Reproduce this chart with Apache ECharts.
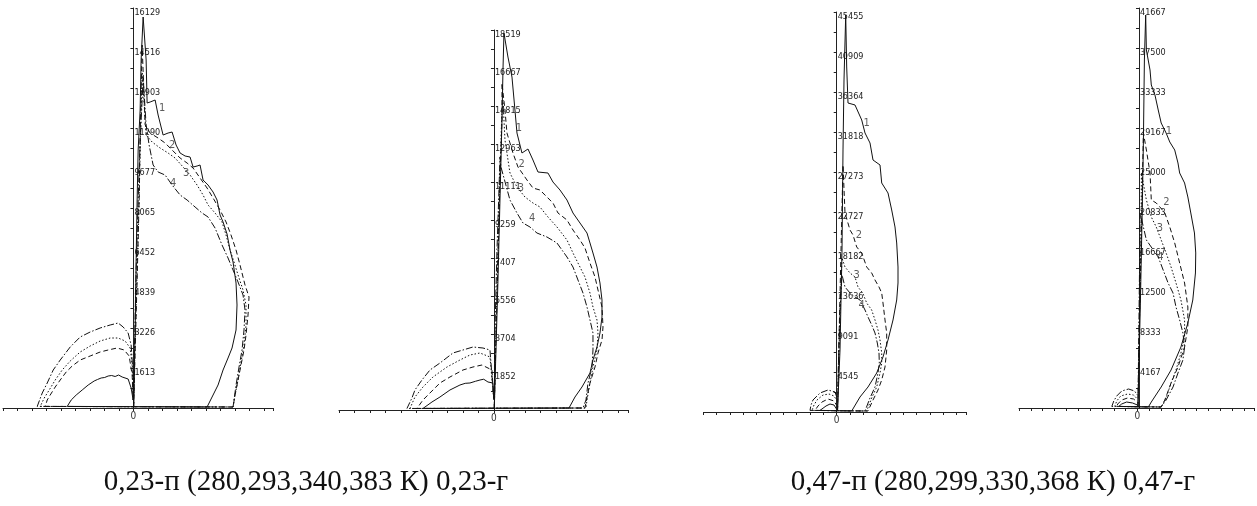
<!DOCTYPE html>
<html><head><meta charset="utf-8">
<script src="https://cdn.jsdelivr.net/npm/echarts@6/dist/echarts.min.js"></script>
<style>html,body{margin:0;padding:0;background:#fff}#c{width:1257px;height:506px}</style>
</head><body><div id="c"></div>
<script>
// ---- tick labels (y axes) ----
const yLabels1 = ['', '1613', '3226', '4839', '6452', '8065', '9677', '11290', '12903', '14516', '16129'];
const yLabels2 = ['', '1852', '3704', '5556', '7407', '9259', '11111', '12963', '14815', '16667', '18519'];
const yLabels3 = ['', '4545', '9091', '13636', '18182', '22727', '27273', '31818', '36364', '40909', '45455'];
const yLabels4 = ['', '4167', '8333', '12500', '16667', '20833', '25000', '29167', '33333', '37500', '41667'];
const curveNames = ['1', '2', '3', '4'];
const captions = ['0,23-п (280,293,340,383 К) 0,23-г', '0,47-п (280,299,330,368 К) 0,47-г'];

// ---- panel 1 (0,23-п) ----
const p1c1Main = [[8,40],[28,1129],[69,3145],[109,5968],[149,8387],[190,10403],[270,12015],[310,14032],[391,15766],[512,14032],[552,12298],[673,12338],[875,12419],[996,11814],[1197,11007],[1399,11088],[1560,11128],[1722,10604],[1883,10282],[2085,10161],[2286,10120],[2407,9717],[2568,9757],[2689,9798],[2810,9193],[3012,8991],[3214,8709],[3375,8387],[3496,7782],[3617,7500],[3778,7016],[3899,6371],[4020,5887],[4141,5040],[4181,4153],[4141,3145],[3980,2419],[3818,2016],[3617,1532],[3415,927],[3214,524],[2972,40]];
const p1c1Left = [[-12,323],[-93,806],[-214,1169],[-456,1250],[-600,1330],[-738,1270],[-880,1310],[-1020,1290],[-1160,1230],[-1302,1210],[-1450,1150],[-1585,1089],[-1826,927],[-2068,726],[-2310,524],[-2512,323],[-2673,121]];
const p1c2Main = [[8,40],[69,2339],[149,5161],[230,8387],[270,10806],[310,12822],[351,14636],[472,11411],[673,11088],[996,10886],[1278,10685],[1560,10403],[1883,10080],[2165,9878],[2407,9677],[2689,9274],[2972,8870],[3214,8467],[3496,7983],[3738,7500],[3939,6975],[4141,6371],[4302,5766],[4504,4959],[4665,4476],[4625,3750],[4544,2943],[4463,2339],[4342,1734],[4222,1129],[4101,524],[4020,40]];
const p1c2Left = [[-12,323],[-52,1331],[-173,2097],[-375,2339],[-657,2419],[-1020,2339],[-1343,2258],[-1746,2097],[-2149,1935],[-2472,1693],[-2714,1452],[-2955,1129],[-3157,847],[-3359,524],[-3480,323],[-3560,121]];
const p1c3Main = [[8,40],[69,2742],[149,5564],[230,8387],[270,10403],[310,12015],[351,13548],[512,11007],[754,10725],[1077,10483],[1399,10282],[1681,10080],[2004,9717],[2286,9395],[2568,8991],[2810,8588],[3012,8185],[3294,7862],[3576,7500],[3738,6975],[3899,6371],[4060,5887],[4222,5363],[4423,4758],[4544,4153],[4544,3347],[4463,2540],[4342,1855],[4222,1129],[4101,524],[4020,40]];
const p1c3Left = [[-12,323],[-52,1734],[-133,2419],[-335,2701],[-617,2822],[-939,2822],[-1343,2701],[-1746,2500],[-2149,2258],[-2552,1895],[-2875,1532],[-3157,1129],[-3399,726],[-3601,403],[-3762,121]];
const p1c4Main = [[8,40],[48,2742],[109,5564],[190,8387],[270,10806],[351,12419],[391,13306],[512,11411],[633,10604],[794,9798],[996,9516],[1278,9395],[1560,8991],[1883,8588],[2165,8387],[2488,8104],[2770,7862],[3012,7701],[3294,7258],[3576,6572],[3818,6048],[4020,5564],[4222,5080],[4423,4556],[4504,3951],[4463,3145],[4383,2339],[4262,1653],[4141,927],[4060,323],[4020,40]];
const p1c4Left = [[-12,323],[-12,1331],[-93,2540],[-214,3024],[-415,3266],[-617,3427],[-939,3347],[-1343,3226],[-1746,3064],[-2149,2863],[-2552,2460],[-2955,1935],[-3238,1532],[-3480,1008],[-3681,605],[-3883,121]];
const p1Marks = [[1157,12096],[1560,10604],[2125,9475],[1601,9072]];

// ---- panel 2 (0,23-г) ----
const p2c1Main = [[15,49],[97,2924],[195,6335],[292,10233],[390,14132],[439,16568],[487,18371],[682,17202],[877,16227],[1023,14619],[1121,13498],[1364,12524],[1657,12719],[1900,12183],[2144,11598],[2631,11549],[2875,11110],[3216,10721],[3557,10233],[3850,9600],[4191,9113],[4532,8625],[4678,8138],[4824,7651],[5019,6968],[5165,6189],[5263,5360],[5263,4532],[5165,3752],[5019,3070],[4824,2437],[4678,1803],[4288,1121],[3947,633],[3655,97]];
const p2c1Left = [[-5,487],[-49,1316],[-292,1364],[-500,1500],[-682,1462],[-900,1400],[-1170,1316],[-1400,1300],[-1657,1218],[-2144,975],[-2631,633],[-3021,390],[-3460,146]];
const p2c2Main = [[15,49],[97,3411],[195,7310],[292,11208],[390,14132],[390,15935],[536,14619],[633,13498],[926,12524],[1170,11841],[1608,11208],[1900,10818],[2242,10721],[2583,10379],[2875,10087],[3119,9600],[3557,9259],[3850,8771],[4191,8284],[4434,7894],[4678,7163],[4922,6481],[5068,5848],[5263,5019],[5312,4045],[5263,3411],[5068,2778],[4922,2095],[4678,1316],[4532,633],[4434,97]];
const p2c2Left = [[-5,487],[-97,1949],[-585,2193],[-1023,2095],[-1511,1949],[-2144,1608],[-2631,1316],[-3119,828],[-3460,487],[-3752,146]];
const p2c3Main = [[15,49],[97,3898],[195,7797],[292,11695],[390,14619],[439,15106],[536,13157],[780,11549],[1121,10867],[1511,10379],[1900,10087],[2242,9892],[2631,9405],[3070,8918],[3557,8284],[3850,7651],[4093,7163],[4434,6481],[4678,5701],[4824,5019],[5019,4386],[5068,3752],[5019,2924],[4824,2095],[4678,1316],[4532,487],[4483,97]];
const p2c3Left = [[-5,487],[-195,2583],[-682,2778],[-1170,2680],[-1657,2437],[-2290,2095],[-2973,1608],[-3460,1121],[-3850,633],[-4093,146]];
const p2c4Main = [[15,49],[49,3898],[146,7797],[244,10721],[292,12329],[341,11841],[780,10233],[1121,9600],[1413,9113],[1754,8918],[2095,8625],[2583,8430],[3070,8138],[3557,7456],[3850,6968],[4093,6335],[4337,5701],[4532,5019],[4678,4386],[4824,3752],[4824,2924],[4776,2095],[4581,1316],[4483,487],[4337,97]];
const p2c4Left = [[-5,487],[-195,2924],[-536,3021],[-1023,3070],[-1511,2924],[-1998,2778],[-2631,2290],[-3119,1949],[-3509,1462],[-3850,975],[-3996,585],[-4240,146]];
const p2Marks = [[1218,13727],[1350,11988],[1316,10803],[1866,9341]];

// ---- panel 3 (0,47-п) ----
const p3c1Main = [[91,114],[375,7046],[602,18410],[716,29774],[830,37728],[1023,45115],[1136,39206],[1284,35115],[2080,34887],[2841,33183],[3216,31706],[3784,30569],[4125,28637],[4921,28069],[5114,26024],[5830,24887],[6250,22955],[6625,21023],[6818,19205],[6966,16478],[6966,14660],[6818,12728],[6398,10455],[5830,8182],[5261,6250],[4546,4432],[3557,2841],[2648,1705],[1705,114]];
const p3c1Left = [[-23,341],[-307,795],[-761,909],[-1216,682],[-1671,341],[-1898,114]];
const p3c2Main = [[91,114],[261,8182],[489,18410],[716,28069],[943,22614],[1511,20682],[1852,20114],[2273,18751],[2841,18069],[3409,16478],[3977,15796],[4352,15000],[4807,14205],[5114,13523],[5261,12387],[5489,10455],[5682,8978],[5682,7046],[5489,5114],[5114,3636],[4693,2500],[4125,1364],[3557,114]];
const p3c2Left = [[-23,795],[-307,1250],[-989,1477],[-1671,1136],[-2125,682],[-2466,114]];
const p3c3Main = [[91,114],[261,7046],[432,12728],[602,17501],[943,16478],[1511,15796],[2080,15341],[2421,14205],[2955,13523],[3409,12387],[3977,11591],[4352,10455],[4693,9318],[4921,8182],[5114,6705],[5114,5568],[4921,4432],[4546,2841],[3977,1591],[3409,114]];
const p3c3Left = [[-23,1364],[-307,1818],[-875,2045],[-1557,1932],[-2239,1364],[-2580,795],[-2807,114]];
const p3c4Main = [[91,114],[205,5909],[375,11591],[602,15569],[943,14205],[1511,13523],[2080,13069],[2648,12728],[3216,11591],[3557,10796],[3977,9887],[4352,8978],[4614,7841],[4807,6705],[4841,5568],[4693,4432],[4352,2841],[3784,1591],[3216,114]];
const p3c4Left = [[0,1705],[-193,2273],[-989,2500],[-1898,2159],[-2693,1364],[-2921,795],[-3034,114]];
const p3Marks = [[3409,32808],[2534,20114],[2273,15569],[2841,12159]];

// ---- panel 4 (0,47-г) ----
const p4c1Main = [[52,104],[313,11250],[521,21667],[625,27918],[729,36251],[865,40939],[938,37293],[1323,35209],[1458,33647],[1844,32605],[2188,31043],[2500,29688],[3021,28647],[3406,27709],[3927,26876],[4271,25522],[4448,24480],[4969,23438],[5313,21980],[5625,20313],[6011,18230],[6146,16146],[6115,14063],[5834,11250],[5313,8854],[4583,6354],[3542,3958],[2500,2188],[1458,625],[1146,104]];
const p4c1Left = [[-10,313],[-521,521],[-1146,625],[-1667,417],[-1979,104]];
const p4c2Main = [[52,104],[208,9167],[417,18542],[625,28647],[938,26876],[1323,24480],[1458,21667],[1979,21355],[2365,20938],[2885,20313],[3406,18855],[3927,17188],[4448,15105],[4969,13021],[5313,10521],[5313,8438],[4969,6354],[4271,4271],[3542,2604],[2885,833],[2500,104]];
const p4c2Left = [[-10,625],[-417,938],[-1042,1042],[-1667,833],[-2083,417],[-2188,104]];
const p4c3Main = [[52,104],[208,9167],[365,17501],[417,24480],[938,21667],[1458,19896],[1979,18855],[2500,17501],[3021,16146],[3542,14688],[4063,13021],[4583,11250],[4969,9167],[4969,7396],[4583,5729],[4063,3958],[3542,2604],[3021,1042],[2500,104]];
const p4c3Left = [[-10,938],[-417,1354],[-1042,1458],[-1771,1250],[-2188,729],[-2396,104]];
const p4c4Main = [[52,104],[156,9167],[281,20313],[938,17501],[1667,16459],[2188,15730],[2708,14375],[3229,13021],[3750,11980],[4063,10521],[4448,9167],[4792,7813],[4969,6354],[4792,5000],[4271,3646],[3750,2188],[3021,833],[2500,104]];
const p4c4Left = [[-10,1354],[-313,1771],[-938,1979],[-1667,1771],[-2188,1250],[-2500,729],[-2708,104]];
const p4Marks = [[3302,28886],[3052,21428],[2365,18719],[2427,15761]];

const panels = [
  {grid:{left:3,top:8,width:270,height:400}, xMin:-5265, xMax:5633, xStep:585, yMax:16129, yStep:1612.9, yLabels:yLabels1,
   curves:[[p1c1Main,p1c1Left],[p1c2Main,p1c2Left],[p1c3Main,p1c3Left],[p1c4Main,p1c4Left]], marks:p1Marks},
  {grid:{left:339,top:30,width:289,height:380}, xMin:-7550, xMax:6530, xStep:755, yMax:18519, yStep:1851.9, yLabels:yLabels2,
   curves:[[p2c1Main,p2c1Left],[p2c2Main,p2c2Left],[p2c3Main,p2c3Left],[p2c4Main,p2c4Left]], marks:p2Marks},
  {grid:{left:703.4,top:12,width:262.6,height:400}, xMin:-15150, xMax:14694, xStep:1515, yMax:45455, yStep:4545.5, yLabels:yLabels3,
   curves:[[p3c1Main,p3c1Left],[p3c2Main,p3c2Left],[p3c3Main,p3c3Left],[p3c4Main,p3c4Left]], marks:p3Marks},
  {grid:{left:1019,top:8,width:238,height:400}, xMin:-12500, xMax:12292, xStep:1250, yMax:41667, yStep:4166.7, yLabels:yLabels4,
   curves:[[p4c1Main,p4c1Left],[p4c2Main,p4c2Left],[p4c3Main,p4c3Left],[p4c4Main,p4c4Left]], marks:p4Marks}
];

const dashes = ['solid', [5,3], [1.5,2], [7,2,1.5,2]];
const narrow = "'Liberation Sans Narrow', 'DejaVu Sans Condensed', 'Liberation Sans', sans-serif";
const axisColor = '#222';

const grids = [], xAxes = [], yAxes = [], series = [];
panels.forEach((p, i) => {
  grids.push(Object.assign({containLabel:false}, p.grid));
  // shift of the vertical axis from the grid's left edge to x = 0
  const zeroShift = (0 - p.xMin) / (p.xMax - p.xMin) * p.grid.width;
  xAxes.push({
    gridIndex:i, type:'value', min:p.xMin, max:p.xMax, interval:p.xStep,
    axisLine:{show:true, onZero:true, lineStyle:{color:axisColor, width:1}},
    axisTick:{show:true, inside:false, length:3, lineStyle:{color:axisColor}},
    axisLabel:{show:true, margin:3, fontSize:10, color:'#333', fontFamily:narrow,
      formatter:(v)=> Math.abs(v) < 1e-6 ? '0' : ''},
    splitLine:{show:false}
  });
  yAxes.push({
    gridIndex:i, type:'value', min:0, max:p.yMax, interval:p.yStep, position:'left',
    offset:-zeroShift,
    axisLine:{show:true, onZero:false, lineStyle:{color:axisColor, width:1}},
    axisTick:{show:true, inside:false, length:3, lineStyle:{color:axisColor}},
    minorTick:{show:true, splitNumber:2, length:3, lineStyle:{color:axisColor}},
    axisLabel:{show:true, inside:true, margin:1, verticalAlign:'top', fontSize:9, color:'#222', fontFamily:narrow,
      formatter:(v)=> { const k = Math.round(v / p.yStep); return p.yLabels[k] || ''; }},
    splitLine:{show:false}, minorSplitLine:{show:false}
  });
  const base = p.yMax * 0.004;
  p.curves.forEach((c, j) => {
    const main = c[0], left = c[1];
    const rightFoot = main[main.length - 1], leftFoot = left[left.length - 1];
    const path = main.concat([[rightFoot[0], base], [leftFoot[0], base]], left.slice().reverse());
    series.push({
      type:'line', xAxisIndex:i, yAxisIndex:i, data:path, showSymbol:false, symbol:'none',
      silent:true, clip:false,
      lineStyle:{color:'#111', width:1, type:dashes[j]}
    });
  });
  series.push({
    type:'scatter', xAxisIndex:i, yAxisIndex:i, symbolSize:1, silent:true,
    itemStyle:{color:'rgba(0,0,0,0)'},
    data:p.marks.map((d, k) => ({value:d, name:curveNames[k]})),
    label:{show:true, position:'inside', formatter:'{b}', fontSize:11, color:'#333', fontFamily:narrow}
  });
});

const chart = echarts.init(document.getElementById('c'), null, {renderer:'canvas'});
chart.setOption({
  animation:false,
  backgroundColor:'#fff',
  grid:grids, xAxis:xAxes, yAxis:yAxes, series:series,
  graphic:[
    {type:'text', x:306, y:482, style:{text:captions[0], fontSize:29, fontFamily:"'Liberation Serif', 'Times New Roman', serif", fill:'#111', align:'center', verticalAlign:'middle'}},
    {type:'text', x:993, y:482, style:{text:captions[1], fontSize:29, fontFamily:"'Liberation Serif', 'Times New Roman', serif", fill:'#111', align:'center', verticalAlign:'middle'}}
  ]
});
</script>
</body></html>
